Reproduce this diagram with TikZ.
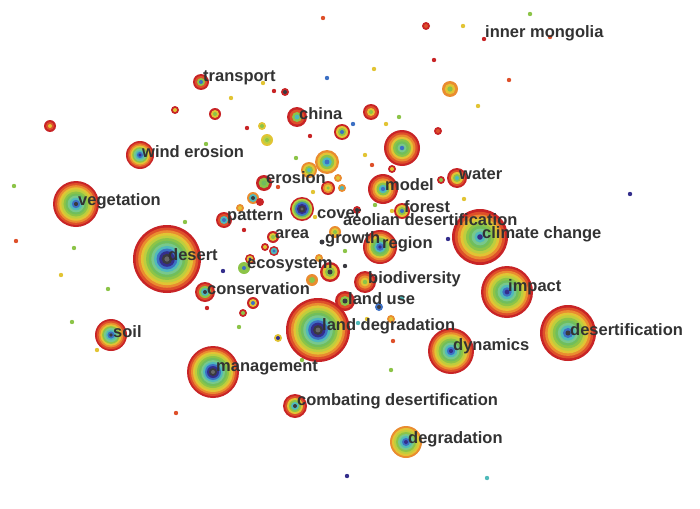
\documentclass[tikz,border=0pt]{standalone}
\usepackage{fontspec}
\setmainfont{Liberation Sans}
\definecolor{ring1}{RGB}{200,36,38}
\definecolor{ring2}{RGB}{222,80,42}
\definecolor{ring3}{RGB}{234,140,48}
\definecolor{ring4}{RGB}{226,196,52}
\definecolor{ring5}{RGB}{190,206,62}
\definecolor{ring6}{RGB}{140,196,72}
\definecolor{ring7}{RGB}{112,190,92}
\definecolor{ring8}{RGB}{120,200,140}
\definecolor{ring9}{RGB}{80,186,186}
\definecolor{ring10}{RGB}{60,112,196}
\definecolor{ring11}{RGB}{52,46,140}
\definecolor{ring12}{RGB}{58,58,64}
\definecolor{ring13}{RGB}{104,104,104}
\definecolor{labelgray}{RGB}{50,50,50}

% keyword: name, centre, radius, ring colours from the outside in
\newcommand\kwrings[4]{%
  \foreach \c [count=\k] in {#4} {\xdef\nrings{\k}}
  \foreach \c [count=\k] in {#4}
    \fill[ring\c] (#2) circle ({#3*(\nrings-\k+1)/\nrings});
  \coordinate (#1) at (#2);
}

\begin{document}
\begin{tikzpicture}[x=1pt, y=-1pt,
  kwlabel/.style={anchor=base west, inner sep=0pt, text=labelgray,
    font=\bfseries\fontsize{16.5}{16.5}\selectfont}]
\useasboundingbox[fill=white] (0,0) rectangle (700,508);

% single dots
\foreach \px/\py/\c [count=\i] in {323/18/2, 263/83/4, 274/91/1, 231/98/4, 327/78/10,
  247/128/1, 310/136/1, 206/144/6, 296/158/6, 278/187/2, 313/192/4, 14/186/6,
  185/222/6, 244/230/1, 315/217/4, 16/241/2, 74/248/6, 345/251/6, 530/14/6,
  463/26/4, 550/37/2, 434/60/1, 374/69/4, 509/80/2, 478/106/4, 399/117/6,
  386/124/4, 353/124/10, 365/155/4, 372/165/2, 464/199/4, 630/194/11, 375/205/6,
  392/211/4, 448/239/11, 61/275/4, 108/289/6, 72/322/6, 97/350/4, 223/271/11,
  345/266/12, 207/308/1, 239/327/6, 302/360/6, 338/347/6, 176/413/2, 347/476/11,
  402/298/9, 367/319/4, 358/323/9, 393/341/2, 391/370/6, 487/478/9, 408/150/11}
  \fill[ring\c] (\px,\py) circle (2.2);

% small unlabelled keywords
\kwrings{n1}{402,148}{18}{1,2,3,4,6,7,8,10}
\kwrings{n2}{327,162}{12}{3,4,6,9,10}
\kwrings{n3}{309,170}{8}{3,4,6,9}
\kwrings{n4}{330,272}{10}{1,4,6,12}
\kwrings{n5}{450,89}{8}{3,4,6}
\kwrings{n6}{371,112}{8}{1,2,4,6}
\kwrings{n7}{342,132}{8}{1,4,6,10}
\kwrings{n8}{215,114}{6}{1,4,6}
\kwrings{n9}{262,126}{4}{4,6}
\kwrings{n10}{267,140}{6}{4,5,6}
\kwrings{n11}{285,92}{4}{1,12}
\kwrings{n12}{50,126}{6}{1,2,4}
\kwrings{n13}{175,110}{4}{1,4}
\kwrings{n14}{426,26}{4}{1,2}
\kwrings{n15}{438,131}{4}{1,2}
\kwrings{n16}{392,169}{4}{1,4}
\kwrings{n17}{441,180}{4}{1,6}
\kwrings{n18}{338,178}{4}{3,4}
\kwrings{n19}{342,188}{4}{3,9}
\kwrings{n20}{328,188}{7}{1,3,4,6}
\kwrings{n21}{253,198}{6}{3,9,12}
\kwrings{n22}{260,202}{4}{1,1}
\kwrings{n23}{240,208}{4}{3,4}
\kwrings{n24}{357,210}{4}{1,12}
\kwrings{n25}{335,232}{6}{3,4,6}
\kwrings{n26}{265,247}{4}{1,4}
\kwrings{n27}{274,251}{5}{1,9,10}
\kwrings{n28}{250,259}{5}{1,4,11}
\kwrings{n29}{319,258}{4}{3,4}
\kwrings{n30}{312,280}{6}{3,6}
\kwrings{n31}{253,303}{6}{1,4,10}
\kwrings{n32}{243,313}{4}{1,6}
\kwrings{n33}{278,338}{4}{4,11}
\kwrings{n34}{379,307}{4}{10,12}
\kwrings{n35}{391,319}{4}{3,4}

% labelled keywords
\kwrings{innermongolia}{484,39}{2.2}{1}
\kwrings{transport}{201,82}{8}{1,2,6,10}
\kwrings{china}{297,117}{10}{1,2,6,9}
\kwrings{winderosion}{140,155}{14}{1,2,3,4,6,8,9,10,11}
\kwrings{water}{457,178}{10}{1,2,4,6,9}
\kwrings{erosion}{264,183}{8}{1,6,7}
\kwrings{model}{383,189}{15}{1,2,3,4,6,9,10}
\kwrings{vegetation}{76,204}{23}{1,2,3,4,5,6,7,8,9,10,12}
\kwrings{pattern}{224,220}{8}{1,2,9,10}
\kwrings{forest}{402,211}{8}{1,4,6,10}
\kwrings{cover}{302,209}{12}{1,5,7,10,11,12,13}
\kwrings{area}{273,237}{6}{1,4,6}
\kwrings{climatechange}{480,237}{28}{1,2,3,4,5,6,7,8,9,11}
\kwrings{growth}{322,242}{2.5}{12}
\kwrings{region}{380,247}{17}{1,2,3,4,6,7,9,10,11}
\kwrings{desert}{167,259}{34}{1,2,3,4,5,6,7,8,9,10,11,12,13}
\kwrings{ecosystem}{244,268}{6}{6,6,10}
\kwrings{biodiversity}{365,282}{11}{1,2,3,4,6}
\kwrings{impact}{507,292}{26}{1,2,3,4,5,6,7,8,9,10,11}
\kwrings{conservation}{205,292}{10}{1,2,6,9,12}
\kwrings{landuse}{345,301}{10}{1,2,6,12}
\kwrings{soil}{111,335}{16}{1,2,3,4,6,8,9,10,12}
\kwrings{landdegradation}{318,330}{32}{1,2,3,4,5,6,7,8,9,10,11,12,13}
\kwrings{desertification}{568,333}{28}{1,2,3,4,5,6,7,8,9,10,12}
\kwrings{dynamics}{451,351}{23}{1,2,3,4,5,6,7,8,9,10,11}
\kwrings{management}{213,372}{26}{1,2,3,4,5,6,7,8,9,10,11,12,13}
\kwrings{combating}{295,406}{12}{1,2,4,6,9,12}
\kwrings{degradation}{406,442}{16}{3,4,5,6,8,9,10,11}

% labels
\node[kwlabel] (t-innermongolia) at (485,38) {inner mongolia};
\node[kwlabel] (t-transport) at (203,82) {transport};
\node[kwlabel] (t-china) at (299,119) {china};
\node[kwlabel] (t-winderosion) at (142,157) {wind erosion};
\node[kwlabel] (t-water) at (459,179) {water};
\node[kwlabel] (t-erosion) at (266,183) {erosion};
\node[kwlabel] (t-model) at (385,190) {model};
\node[kwlabel] (t-vegetation) at (78,205) {vegetation};
\node[kwlabel] (t-pattern) at (227,220) {pattern};
\node[kwlabel] (t-forest) at (404,212) {forest};
\node[kwlabel] (t-cover) at (317,218) {cover};
\node[kwlabel] (t-aeolian) at (343,225) {aeolian desertification};
\node[kwlabel] (t-area) at (275,238) {area};
\node[kwlabel] (t-climatechange) at (482,238) {climate change};
\node[kwlabel] (t-growth) at (325,243) {growth};
\node[kwlabel] (t-region) at (382,248) {region};
\node[kwlabel] (t-desert) at (168,260) {desert};
\node[kwlabel] (t-ecosystem) at (247,268) {ecosystem};
\node[kwlabel] (t-biodiversity) at (368,283) {biodiversity};
\node[kwlabel] (t-impact) at (508,291) {impact};
\node[kwlabel] (t-conservation) at (207,294) {conservation};
\node[kwlabel] (t-landuse) at (348,304) {land use};
\node[kwlabel] (t-soil) at (113,337) {soil};
\node[kwlabel] (t-landdegradation) at (322,330) {land degradation};
\node[kwlabel] (t-desertification) at (570,335) {desertification};
\node[kwlabel] (t-dynamics) at (453,350) {dynamics};
\node[kwlabel] (t-management) at (216,371) {management};
\node[kwlabel] (t-combating) at (297,405) {combating desertification};
\node[kwlabel] (t-degradation) at (408,443) {degradation};
\end{tikzpicture}
\end{document}
